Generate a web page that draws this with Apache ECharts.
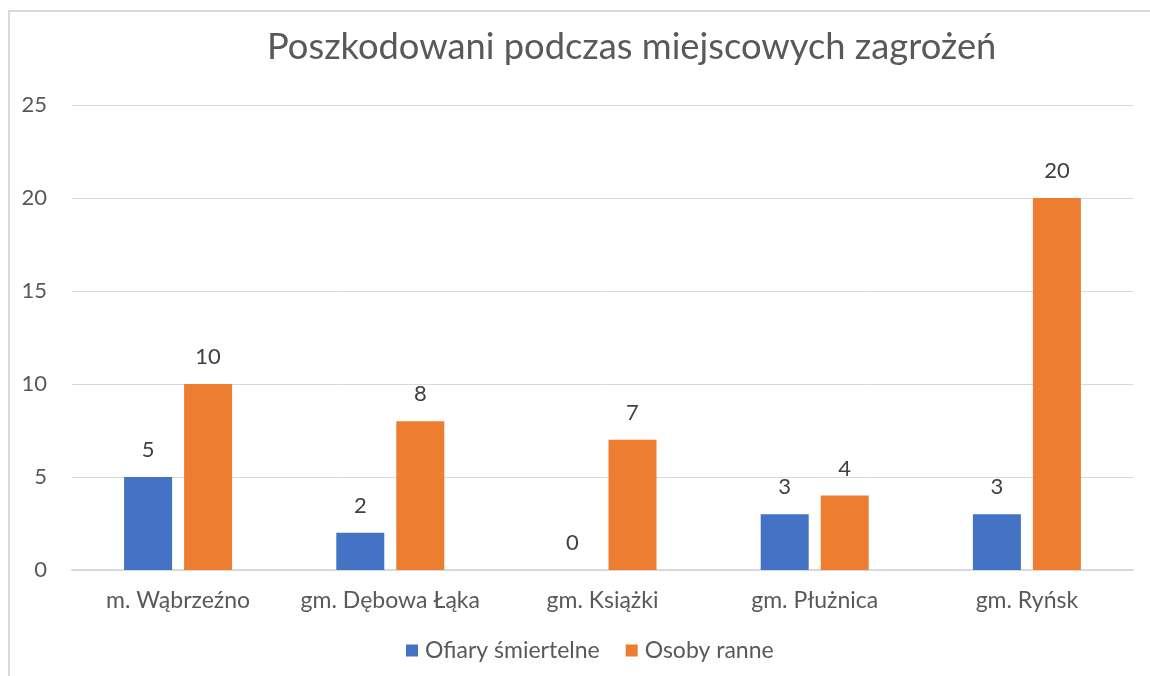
<!DOCTYPE html>
<html>
<head>
<meta charset="utf-8">
<script src="https://cdn.jsdelivr.net/npm/echarts@6/dist/echarts.min.js"></script>
<style>
  html, body { margin: 0; padding: 0; background: #fff; overflow: hidden; }
  #frame { position: absolute; left: 8px; top: 10px; width: 1160px; height: 690px; border: 2px solid #d9d9d9; box-sizing: border-box; }
  #chart { position: absolute; left: 0; top: 0; width: 1150px; height: 676px; }
</style>
</head>
<body>
<div id="frame"></div>
<div id="chart"></div>
<script>
// dane z wykresu
const categories = ['m. Wąbrzeźno', 'gm. Dębowa Łąka', 'gm. Książki', 'gm. Płużnica', 'gm. Ryńsk'];
const ofiary = [5, 2, 0, 3, 3];
const ranne = [10, 8, 7, 4, 20];
const seriesNames = ['Ofiary śmiertelne', 'Osoby ranne'];

const txt = '#595959';
let chart = echarts.init(document.getElementById('chart'));

function barSeries(name, data, color){
    return {
        name: name,
        type: 'bar',
        data: data,
        barWidth: 48,
        barGap: '25%',
        itemStyle: { color: color },
        label: {
            show: true,
            position: 'top',
            distance: 16,
            color: '#404040',
            fontSize: 22,
            fontFamily: 'Lato'
        }
    };
}

chart.setOption({
    animation: false,
    textStyle: { fontFamily: 'Lato' },
    title: {
        text: 'Poszkodowani podczas miejscowych zagrożeń',
        left: 262,
        top: 24,
        textStyle: { color: txt, fontSize: 36.3, fontWeight: 'normal', fontFamily: 'Lato' }
    },
    legend: {
        data: seriesNames,
        bottom: 9,
        left: 401,
        itemWidth: 12,
        itemHeight: 12,
        itemGap: 26,
        icon: 'rect',
        textStyle: { color: txt, fontSize: 23, fontFamily: 'Lato', padding: [0, 0, 0, 2] }
    },
    grid: { left: 72, right: 17, top: 105, bottom: 106, containLabel: false },
    xAxis: {
        type: 'category',
        data: categories,
        axisLine: { lineStyle: { color: '#d9d9d9', width: 2 } },
        axisTick: { show: false },
        axisLabel: { color: txt, fontSize: 23, margin: 19, interval: 0, fontFamily: 'Lato' }
    },
    yAxis: {
        type: 'value',
        min: 0,
        max: 25,
        interval: 5,
        axisLine: { show: false },
        axisTick: { show: false },
        splitLine: { lineStyle: { color: '#d9d9d9', width: 1 } },
        axisLabel: { color: txt, fontSize: 22, margin: 25, fontFamily: 'Lato' }
    },
    series: [
        barSeries(seriesNames[0], ofiary, '#4472c4'),
        barSeries(seriesNames[1], ranne, '#ed7d31')
    ]
});
</script>
</body>
</html>
